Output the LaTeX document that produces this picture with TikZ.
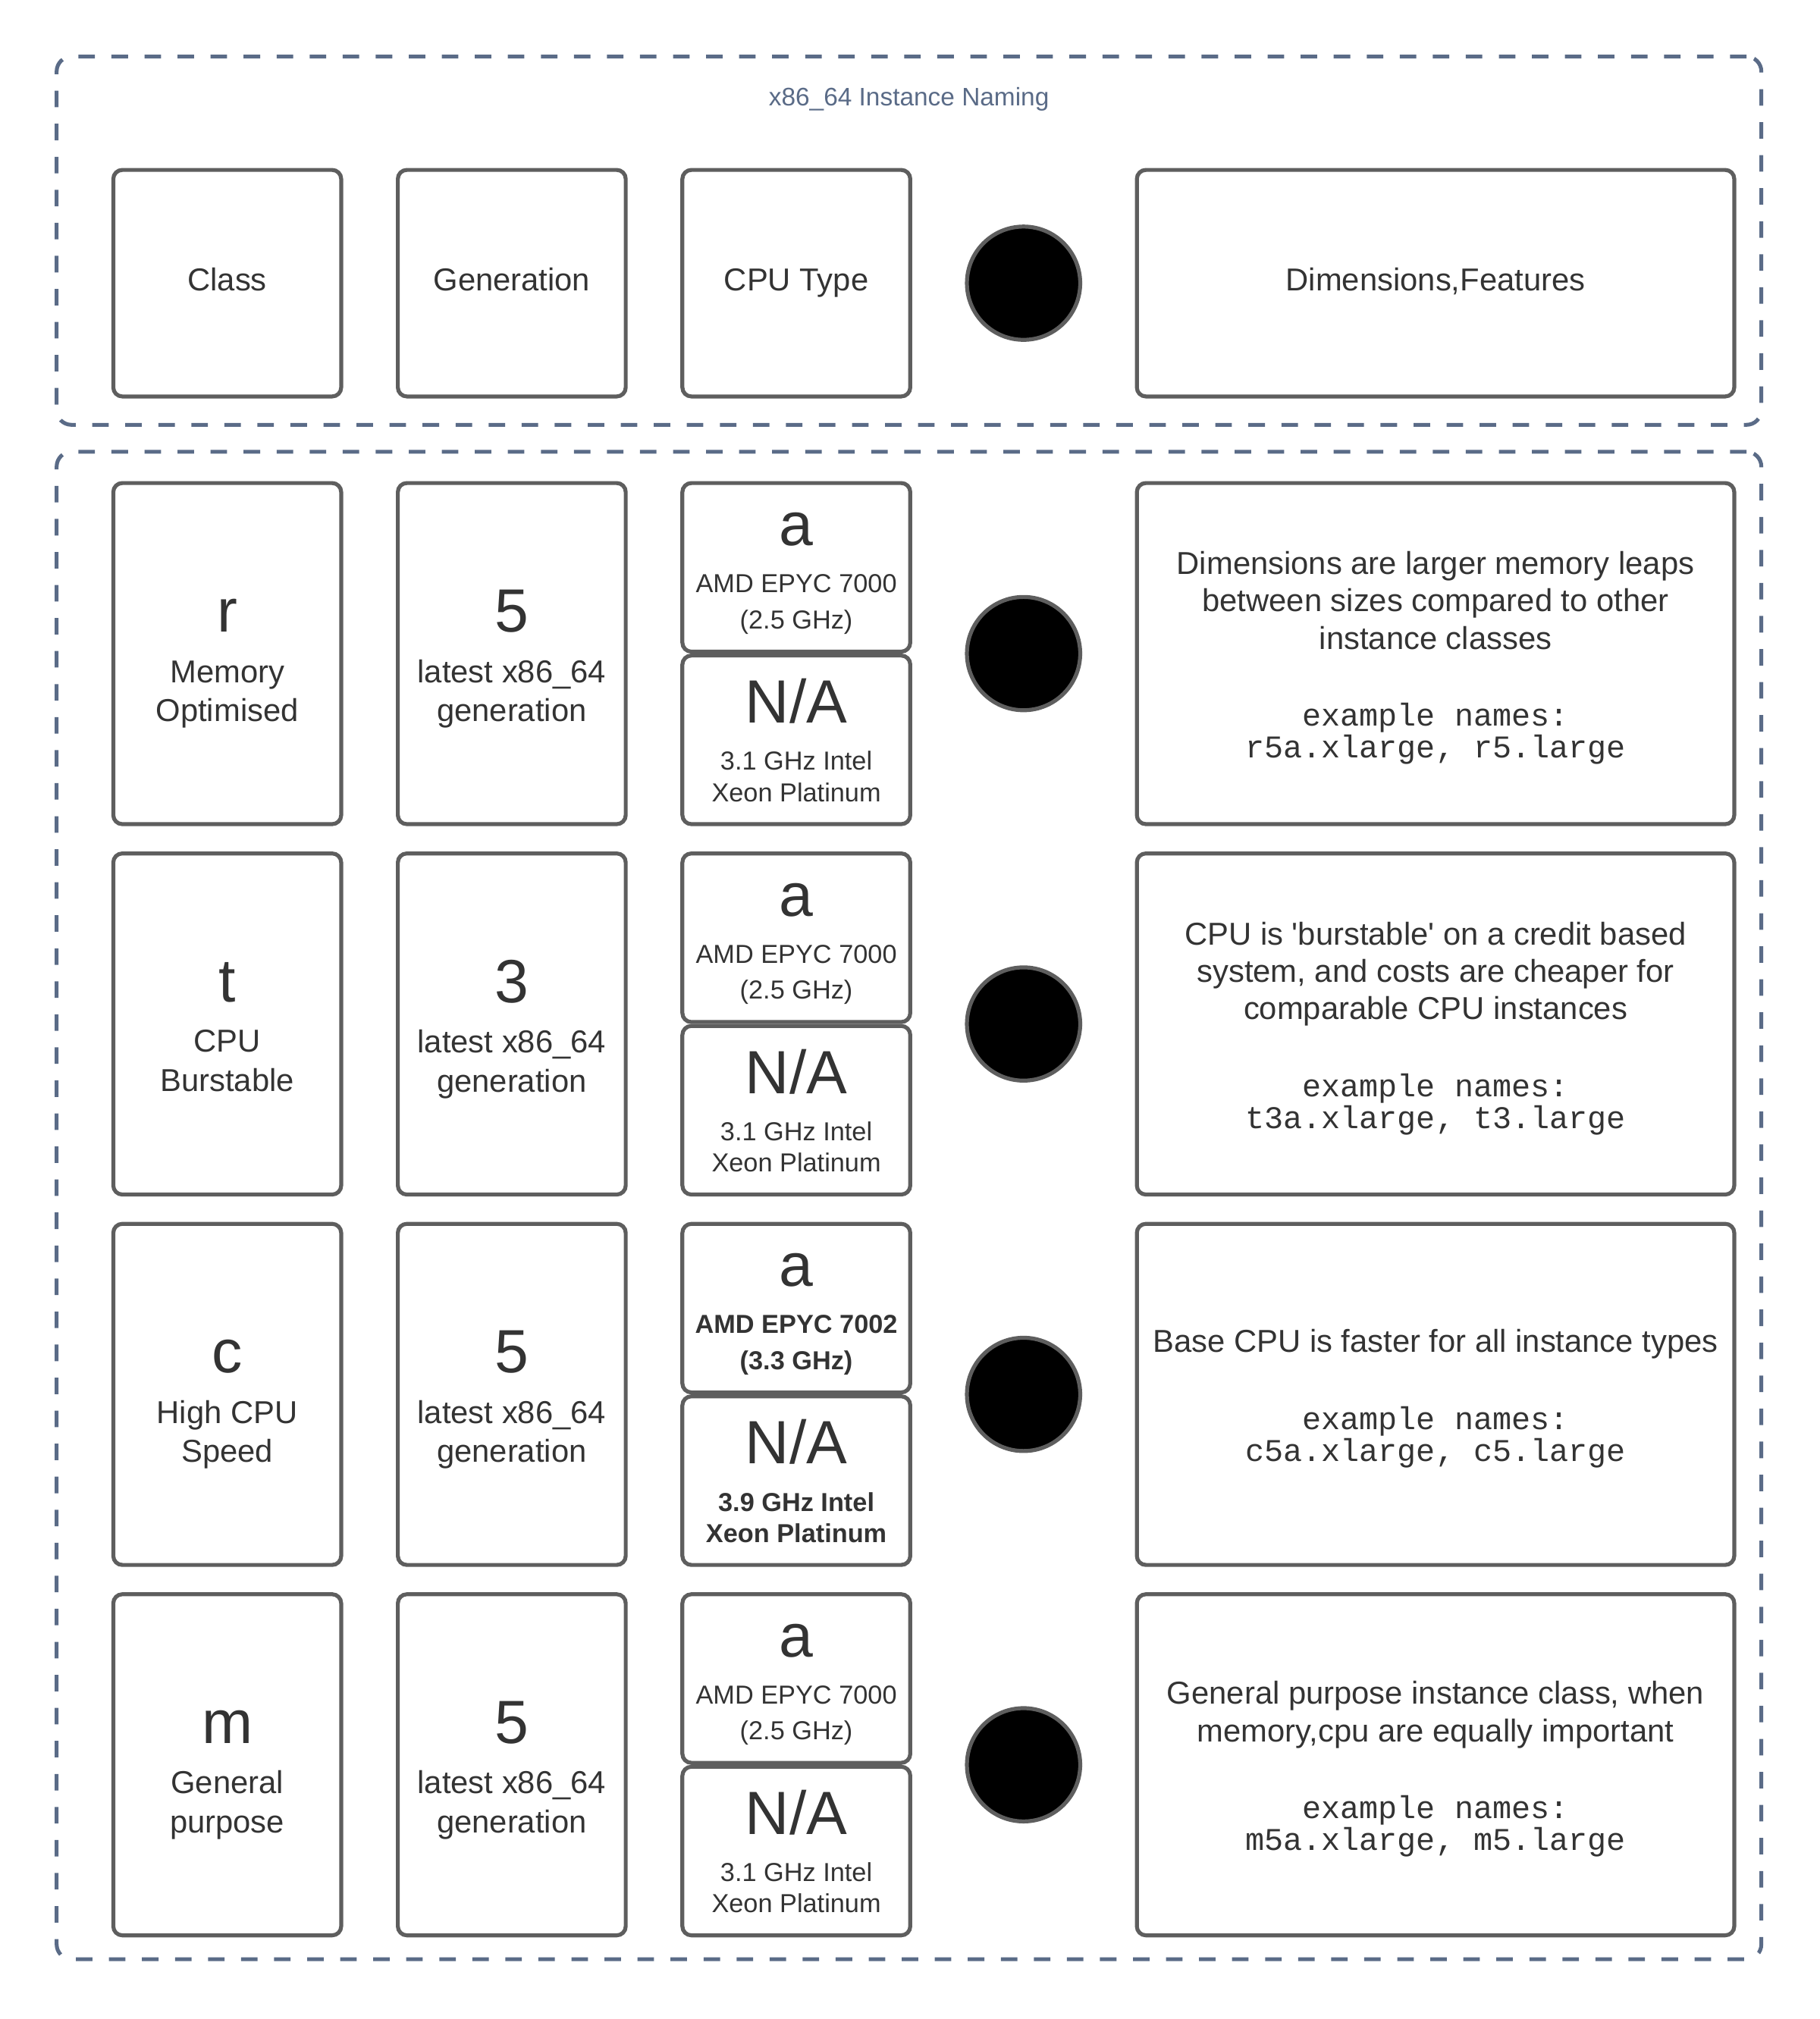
\documentclass[tikz,border=0pt]{standalone}
\usepackage{fontspec}
\setmainfont{Liberation Sans}[Ligatures=TeXOff]
\setmonofont{Liberation Mono}
\definecolor{boxgray}{HTML}{5E5E5E}
\definecolor{textgray}{HTML}{333333}
\definecolor{groupslate}{HTML}{5A6B87}
\newcommand{\bigletter}[1]{{\fontsize{27pt}{27pt}\selectfont\rule{0pt}{23.5pt}#1}}
\newcommand{\cpuletter}[1]{{\fontsize{27pt}{27pt}\selectfont\rule{0pt}{20pt}#1}}
\newcommand{\firstline}{\rule{0pt}{14pt}}
\newcommand{\mononame}[1]{{\ttfamily #1}}
\begin{document}
\begin{tikzpicture}[font=\fontsize{14pt}{16.8pt}\selectfont, text=textgray]
    \useasboundingbox (0,0) rectangle (28.27,-31.37);

    % Define node styles
    \tikzstyle{group_block} = [draw=groupslate, line width=1.7pt, dash pattern=on 7.3pt off 7.3pt, rounded corners=6.5pt, minimum width=26.48cm, inner sep=0pt]
    \tikzstyle{class_block} = [draw=boxgray, line width=1.75pt, rounded corners=4pt, minimum width=3.54cm, minimum height=5.3cm, align=center, inner sep=0pt, font=\fontsize{14pt}{17.3pt}\selectfont]
    \tikzstyle{header_block} = [class_block, minimum height=3.52cm, text depth=3.4pt]
    \tikzstyle{cpu_a_block} = [class_block, minimum height=2.62cm, font=\fontsize{11.5pt}{16pt}\selectfont]
    \tikzstyle{cpu_na_block} = [class_block, minimum height=2.62cm, font=\fontsize{11.5pt}{13.8pt}\selectfont]
    \tikzstyle{dot_block} = [circle, draw=boxgray, fill=black, line width=1.75pt, minimum size=1.76cm, inner sep=0pt]
    \tikzstyle{description_block} = [class_block, minimum width=9.28cm, font=\fontsize{14pt}{16.5pt}\selectfont]

    % Draw groups
    \node [group_block, minimum height=5.72cm] (header_group) at (14.12,-3.74) {};
    \node [group_block, minimum height=23.42cm] (rows_group) at (14.12,-18.73) {};
    \node [text=groupslate, font=\fontsize{11.2pt}{13pt}\selectfont] (title) at (14.12,-1.54) {x86\_64 Instance Naming};

    % Draw header nodes
    \node [header_block] (class_header) at (3.53,-4.4) {Class};
    \node [header_block, right of=class_header, xshift=3.42cm] (generation_header) {Generation};
    \node [header_block, right of=generation_header, xshift=3.42cm] (cpu_header) {CPU Type};
    \node [dot_block, right of=cpu_header, xshift=2.53cm] (dot_header) {};
    \node [header_block, minimum width=9.28cm, right of=dot_header, xshift=5.4cm] (description_header) {Dimensions,Features};

    % Row r
    \node [class_block, below of=class_header, yshift=-4.755cm] (class_r) {\bigletter{r}\\[5pt] Memory\\ Optimised};
    \node [class_block, right of=class_r, xshift=3.42cm] (generation_r) {\bigletter{5}\\[5pt] latest x86\_64\\ generation};
    \node [cpu_a_block, right of=generation_r, xshift=3.42cm, yshift=1.34cm] (cpu_r_a) {\cpuletter{a}\\[4.7pt] AMD EPYC 7000\\ (2.5 GHz)};
    \node [cpu_na_block, below of=cpu_r_a, yshift=-1.68cm] (cpu_r_na) {\cpuletter{N/A}\\[7pt] 3.1 GHz Intel\\ Xeon Platinum};
    \node [dot_block, right of=generation_r, xshift=6.95cm] (dot_r) {};
    \node [description_block, right of=dot_r, xshift=5.4cm] (description_r) {\firstline Dimensions are larger memory leaps\\ between sizes compared to other\\ instance classes\\[17.6pt] \mononame{example names:}\\[-2.5pt] \mononame{r5a.xlarge, r5.large}};

    % Row t
    \node [class_block, below of=class_r, yshift=-4.755cm] (class_t) {\cpuletter{t}\\[5pt] CPU\\ Burstable};
    \node [class_block, right of=class_t, xshift=3.42cm] (generation_t) {\bigletter{3}\\[5pt] latest x86\_64\\ generation};
    \node [cpu_a_block, right of=generation_t, xshift=3.42cm, yshift=1.34cm] (cpu_t_a) {\cpuletter{a}\\[4.7pt] AMD EPYC 7000\\ (2.5 GHz)};
    \node [cpu_na_block, below of=cpu_t_a, yshift=-1.68cm] (cpu_t_na) {\cpuletter{N/A}\\[7pt] 3.1 GHz Intel\\ Xeon Platinum};
    \node [dot_block, right of=generation_t, xshift=6.95cm] (dot_t) {};
    \node [description_block, right of=dot_t, xshift=5.4cm] (description_t) {\firstline CPU is 'burstable' on a credit based\\ system, and costs are cheaper for\\ comparable CPU instances\\[17.6pt] \mononame{example names:}\\[-2.5pt] \mononame{t3a.xlarge, t3.large}};

    % Row c
    \node [class_block, below of=class_t, yshift=-4.755cm] (class_c) {\bigletter{c}\\[5pt] High CPU\\ Speed};
    \node [class_block, right of=class_c, xshift=3.42cm] (generation_c) {\bigletter{5}\\[5pt] latest x86\_64\\ generation};
    \node [cpu_a_block, right of=generation_c, xshift=3.42cm, yshift=1.34cm] (cpu_c_a) {\cpuletter{a}\\[4.7pt] \textbf{AMD EPYC 7002}\\ \textbf{(3.3 GHz)}};
    \node [cpu_na_block, below of=cpu_c_a, yshift=-1.68cm] (cpu_c_na) {\cpuletter{N/A}\\[7pt] \textbf{3.9 GHz Intel}\\ \textbf{Xeon Platinum}};
    \node [dot_block, right of=generation_c, xshift=6.95cm] (dot_c) {};
    \node [description_block, right of=dot_c, xshift=5.4cm] (description_c) {\firstline Base CPU is faster for all instance types\\[17.6pt] \mononame{example names:}\\[-2.5pt] \mononame{c5a.xlarge, c5.large}};

    % Row m
    \node [class_block, below of=class_c, yshift=-4.755cm] (class_m) {\bigletter{m}\\[5pt] General\\ purpose};
    \node [class_block, right of=class_m, xshift=3.42cm] (generation_m) {\bigletter{5}\\[5pt] latest x86\_64\\ generation};
    \node [cpu_a_block, right of=generation_m, xshift=3.42cm, yshift=1.34cm] (cpu_m_a) {\cpuletter{a}\\[4.7pt] AMD EPYC 7000\\ (2.5 GHz)};
    \node [cpu_na_block, below of=cpu_m_a, yshift=-1.68cm] (cpu_m_na) {\cpuletter{N/A}\\[7pt] 3.1 GHz Intel\\ Xeon Platinum};
    \node [dot_block, right of=generation_m, xshift=6.95cm] (dot_m) {};
    \node [description_block, right of=dot_m, xshift=5.4cm] (description_m) {\firstline General purpose instance class, when\\ memory,cpu are equally important\\[17.6pt] \mononame{example names:}\\[-2.5pt] \mononame{m5a.xlarge, m5.large}};
\end{tikzpicture}
\end{document}
